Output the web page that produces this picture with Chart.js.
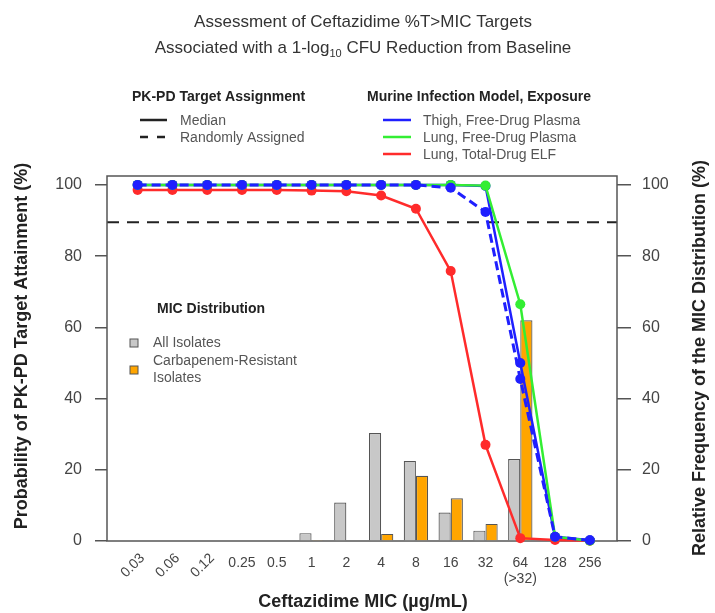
<!DOCTYPE html>
<html>
<head>
<meta charset="utf-8">
<script src="https://cdn.jsdelivr.net/npm/chart.js@4.4.1/dist/chart.umd.min.js"></script>
<style>
  html, body { margin: 0; padding: 0; background: #fff; }
  canvas { display: block; }
</style>
</head>
<body>
<canvas id="pta" width="715" height="613"></canvas>
<script>
// MIC categories (x axis)
const micLabels = ['0.03', '0.06', '0.12', '0.25', '0.5', '1', '2', '4', '8', '16', '32', '64', '128', '256'];
const yTicks = [0, 20, 40, 60, 80, 100];

// Probability of PK-PD target attainment (%)
const thighMedian   = [100, 100, 100, 100, 100, 100, 100, 100, 100, 100, 99.7, 50, 1.2, 0.2];
const thighRandom   = [100, 100, 100, 100, 100, 100, 100, 100, 100, 99.2, 92.4, 45.5, 1.2, 0.2];
const lungFreeMedian = [100, 100, 100, 100, 100, 100, 100, 100, 100, 100, 99.8, 66.5, 1.2, 0.1];
const lungElfMedian = [98.6, 98.6, 98.6, 98.6, 98.6, 98.4, 98.2, 97, 93.3, 75.8, 27, 0.8, 0.3, 0.1];

// MIC distribution, relative frequency (%)
const allIsolates    = [null, null, null, null, 0.2, 2.2, 10.8, 30.3, 22.5, 8, 2.9, 23, null, null];
const carbaResistant = [null, null, null, null, null, 0.3, null, 2, 18.3, 12, 4.8, 62, null, null];

// target line (%)
const targetLine = 89.5;

const FONT = '"Liberation Sans", Arial, sans-serif';

function toPoints(values) {
    return values.map((v, i) => ({ x: i, y: v }));
}

function lineSet(label, values, color, dashed, order) {
    return {
        type: 'line',
        label: label,
        data: toPoints(values),
        yAxisID: 'y',
        borderColor: color,
        backgroundColor: color,
        borderWidth: dashed ? 3 : 2.5,
        borderDash: dashed ? [9, 5] : [],
        pointRadius: 5,
        pointBorderWidth: 0,
        pointBackgroundColor: color,
        tension: 0,
        clip: false,
        order: order
    };
}

// frame + target line, under the data
const framePlugin = {
    id: 'frame',
    beforeDatasetsDraw(chart) {
        const { ctx, chartArea: a, scales } = chart;
        ctx.save();
        const y = scales.y.getPixelForValue(targetLine);
        ctx.strokeStyle = '#222';
        ctx.lineWidth = 2;
        ctx.setLineDash([12, 8]);
        ctx.beginPath();
        ctx.moveTo(a.left, y);
        ctx.lineTo(a.right, y);
        ctx.stroke();
        ctx.setLineDash([]);
        ctx.strokeStyle = '#555';
        ctx.lineWidth = 1.5;
        ctx.strokeRect(a.left, a.top, a.right - a.left, a.bottom - a.top);
        ctx.restore();
    }
};

// titles, legends, x tick labels
const textPlugin = {
    id: 'texts',
    afterDraw(chart) {
        const { ctx, chartArea: a, scales } = chart;
        ctx.save();
        ctx.fillStyle = '#333';
        ctx.textBaseline = 'middle';

        // main title
        ctx.font = '17px ' + FONT;
        ctx.textAlign = 'center';
        ctx.fillText('Assessment of Ceftazidime %T>MIC Targets', 363, 22);
        const p1 = 'Associated with a 1-log', p2 = '10', p3 = ' CFU Reduction from Baseline';
        const w1 = ctx.measureText(p1).width, w3 = ctx.measureText(p3).width;
        ctx.font = '11px ' + FONT;
        const w2 = ctx.measureText(p2).width;
        let x0 = 363 - (w1 + w2 + w3) / 2;
        ctx.textAlign = 'left';
        ctx.font = '17px ' + FONT;
        ctx.fillText(p1, x0, 48);
        ctx.font = '11px ' + FONT;
        ctx.fillText(p2, x0 + w1, 54);
        ctx.font = '17px ' + FONT;
        ctx.fillText(p3, x0 + w1 + w2, 48);

        // legend: target assignment
        ctx.fillStyle = '#222';
        ctx.font = 'bold 14px ' + FONT;
        ctx.fillText('PK-PD Target Assignment', 132, 97);
        ctx.fillText('Murine Infection Model, Exposure', 367, 97);
        ctx.font = '14px ' + FONT;
        ctx.fillStyle = '#555';
        ctx.fillText('Median', 180, 121);
        ctx.fillText('Randomly Assigned', 180, 138);
        ctx.fillText('Thigh, Free-Drug Plasma', 423, 121);
        ctx.fillText('Lung, Free-Drug Plasma', 423, 138);
        ctx.fillText('Lung, Total-Drug ELF', 423, 155);
        ctx.lineWidth = 2.5;
        ctx.strokeStyle = '#222';
        ctx.beginPath(); ctx.moveTo(140, 120); ctx.lineTo(167, 120); ctx.stroke();
        ctx.setLineDash([8, 9]);
        ctx.beginPath(); ctx.moveTo(140, 137); ctx.lineTo(167, 137); ctx.stroke();
        ctx.setLineDash([]);
        [['#1f1fff', 120], ['#33ee33', 137], ['#ff2b2b', 154]].forEach(([c, y]) => {
            ctx.strokeStyle = c;
            ctx.beginPath(); ctx.moveTo(383, y); ctx.lineTo(411, y); ctx.stroke();
        });

        // legend: MIC distribution
        ctx.fillStyle = '#222';
        ctx.font = 'bold 14px ' + FONT;
        ctx.fillText('MIC Distribution', 157, 309);
        ctx.font = '14px ' + FONT;
        ctx.fillStyle = '#555';
        ctx.fillText('All Isolates', 153, 343);
        ctx.fillText('Carbapenem-Resistant', 153, 361);
        ctx.fillText('Isolates', 153, 378);
        ctx.lineWidth = 1;
        ctx.strokeStyle = '#555';
        ctx.fillStyle = '#c8c8c8';
        ctx.fillRect(130, 339, 8, 8); ctx.strokeRect(130, 339, 8, 8);
        ctx.fillStyle = '#ffa500';
        ctx.fillRect(130, 366, 8, 8); ctx.strokeRect(130, 366, 8, 8);

        // x tick labels
        ctx.fillStyle = '#444';
        ctx.font = '14px ' + FONT;
        micLabels.forEach((lab, i) => {
            const x = scales.x.getPixelForValue(i);
            if (i < 3) {
                ctx.save();
                ctx.translate(x + 5, 556);
                ctx.rotate(-Math.PI / 4);
                ctx.textAlign = 'right';
                ctx.fillText(lab, 0, 0);
                ctx.restore();
            } else {
                ctx.textAlign = 'center';
                ctx.fillText(lab, x, 563);
            }
        });
        ctx.textAlign = 'center';
        ctx.fillText('(>32)', scales.x.getPixelForValue(11), 579);

        // axis titles
        ctx.fillStyle = '#222';
        ctx.font = 'bold 18px ' + FONT;
        ctx.fillText('Ceftazidime MIC (\u00b5g/mL)', 363, 602);
        ctx.save();
        ctx.translate(22, 346);
        ctx.rotate(-Math.PI / 2);
        ctx.fillText('Probability of PK-PD Target Attainment (%)', 0, 0);
        ctx.restore();
        ctx.save();
        ctx.translate(700, 358);
        ctx.rotate(-Math.PI / 2);
        ctx.fillText('Relative Frequency of the MIC Distribution (%)', 0, 0);
        ctx.restore();

        ctx.restore();
    }
};

function yAxis(position, width, tickLen, pad) {
    return {
        type: 'linear',
        position: position,
        min: 0,
        max: 102.5,
        afterFit: s => { s.width = width; },
        afterBuildTicks: s => { s.ticks = yTicks.map(v => ({ value: v })); },
        border: { display: false },
        grid: { drawOnChartArea: false, drawTicks: true, tickLength: tickLen, color: '#555', lineWidth: 1.5 },
        ticks: { padding: pad, color: '#444', font: { family: FONT, size: 16 } }
    };
}

const ctx = document.getElementById('pta').getContext('2d');
const ptaChart = new Chart(ctx, {
    data: {
        datasets: [
            {
                type: 'bar',
                label: 'All Isolates',
                data: toPoints(allIsolates),
                yAxisID: 'y2',
                backgroundColor: '#c8c8c8',
                borderColor: '#555',
                borderWidth: 1.2,
                categoryPercentage: 0.7,
                barPercentage: 1,
                order: 10
            },
            {
                type: 'bar',
                label: 'Carbapenem-Resistant Isolates',
                data: toPoints(carbaResistant),
                yAxisID: 'y2',
                backgroundColor: '#ffa500',
                borderColor: '#555',
                borderWidth: 1.2,
                categoryPercentage: 0.7,
                barPercentage: 1,
                order: 10
            },
            lineSet('Lung, Total-Drug ELF', lungElfMedian, '#ff2b2b', false, 5),
            lineSet('Thigh, Free-Drug Plasma', thighMedian, '#1f1fff', false, 4),
            lineSet('Lung, Free-Drug Plasma', lungFreeMedian, '#33ee33', false, 3),
            lineSet('Thigh, Free-Drug Plasma (random)', thighRandom, '#1f1fff', true, 2)
        ]
    },
    options: {
        responsive: false,
        animation: false,
        devicePixelRatio: 1,
        layout: { padding: { top: 176, left: 0, right: 0, bottom: 0 } },
        plugins: {
            legend: { display: false },
            tooltip: { enabled: false }
        },
        scales: {
            x: {
                type: 'linear',
                offset: false,
                min: -0.88,
                max: 13.78,
                afterFit: s => { s.height = 72; },
                border: { display: false },
                grid: { display: false },
                ticks: { display: false }
            },
            y: yAxis('left', 107, 12, 13),
            y2: yAxis('right', 98, 14, 11)
        }
    },
    plugins: [framePlugin, textPlugin]
});
</script>
</body>
</html>
